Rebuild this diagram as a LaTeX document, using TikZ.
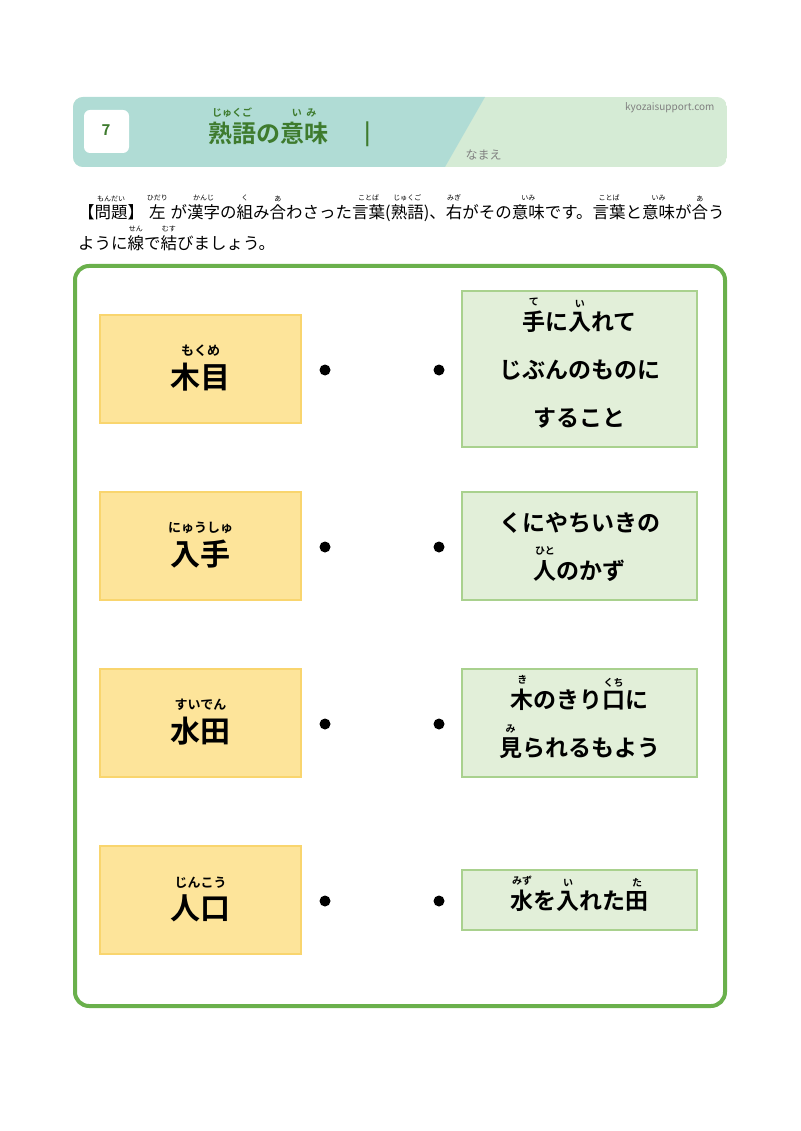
\documentclass[tikz,border=0pt]{standalone}
\usepackage{fontspec}
\setmainfont{Noto Sans CJK JP}
\newfontfamily\jpb{Noto Sans CJK JP Bold}
\newdimen\rbw
\newsavebox\rbbase
\newsavebox\rbruby
\newcommand\rb[3][7pt]{\leavevmode\sbox\rbbase{#2}\sbox\rbruby{\fontsize{#1}{#1}\selectfont #3}%
  \rbw=\wd\rbbase\relax \ifdim\wd\rbruby>\rbw \rbw=\wd\rbruby\relax\fi
  \rlap{\hbox to\rbw{\hss\smash{\raisebox{1.3\ht\rbbase}{\usebox\rbruby}}\hss}}%
  \hbox to\rbw{\hss\usebox\rbbase\hss}}
\definecolor{teal}{HTML}{B0DCD5}
\definecolor{paleg}{HTML}{D5EBD5}
\definecolor{dgreen}{HTML}{3E7B2E}
\definecolor{frameg}{HTML}{6AB04C}
\definecolor{wordfill}{HTML}{FDE49A}
\definecolor{worddraw}{HTML}{F9D56E}
\definecolor{meanfill}{HTML}{E2EFD9}
\definecolor{meandraw}{HTML}{A9D18E}
\tikzset{
  wordbox/.style={draw=worddraw,fill=wordfill,line width=2pt,minimum width=201pt,minimum height=108pt,font=\jpb\fontsize{30}{34}\selectfont,inner sep=0pt,text height=42pt,text depth=3pt},
  meanbox/.style={draw=meandraw,fill=meanfill,line width=2pt,minimum width=235pt,font=\jpb\fontsize{23}{48}\selectfont,align=center,inner sep=0pt,text depth=-10pt},
  dot/.style={circle,fill=black,inner sep=0pt,minimum size=11pt}
}
\begin{document}
\begin{tikzpicture}[x=1pt,y=-1pt]
\useasboundingbox (0,0) rectangle (800,1131);
% header
\begin{scope}
\clip[rounded corners=10pt] (73,97) rectangle (727,167);
\fill[paleg] (73,97) rectangle (727,167);
\fill[teal] (73,97) -- (485,97) -- (445,167) -- (73,167) -- cycle;
\end{scope}
\fill[white,rounded corners=6pt] (84,110) rectangle (129,153);
\node[text=dgreen,font=\jpb\fontsize{15}{15}\selectfont] (num) at (106,130) {7};
\node[text=dgreen,font=\jpb\fontsize{24}{26}\selectfont,anchor=base west,inner sep=0pt] (title) at (208,143)
  {\rb[10pt]{熟語}{じゅくご}の\rb[10pt]{意味}{い\ \ み}};
\node[text=dgreen,font=\jpb\fontsize{22}{22}\selectfont] (bar) at (368,134) {|};
\node[text=gray,font=\fontsize{10}{10}\selectfont,anchor=east] (site) at (718,108) {kyozaisupport.com};
\node[text=gray,font=\fontsize{12}{12}\selectfont,anchor=west] (name) at (462,155) {なまえ};
% question
\node[anchor=base west,font=\fontsize{16.5}{18}\selectfont,inner sep=0pt] (q1) at (78,219)
  {【\rb{問題}{もんだい}】\,\rb{左}{ひだり}\,が\rb{漢字}{かんじ}の\rb{組}{く}み\rb{合}{あ}わさった\rb{言葉}{ことば}(\rb{熟語}{じゅくご})、\rb{右}{みぎ}がその\rb{意味}{いみ}です。\rb{言葉}{ことば}と\rb{意味}{いみ}が\rb{合}{あ}う};
\node[anchor=base west,font=\fontsize{16.5}{18}\selectfont,inner sep=0pt] (q2) at (78,250)
  {ように\rb{線}{せん}で\rb{結}{むす}びましょう。};
% frame
\draw[frameg,line width=4pt,rounded corners=14pt] (75,266) rectangle (725,1006);
% words
\node[wordbox] (w1) at (200.5,369) {\rb[13pt]{木目}{もくめ}};
\node[wordbox] (w2) at (200.5,546) {\rb[13pt]{入手}{にゅうしゅ}};
\node[wordbox] (w3) at (200.5,723) {\rb[13pt]{水田}{すいでん}};
\node[wordbox] (w4) at (200.5,900) {\rb[13pt]{人口}{じんこう}};
% meanings
\node[meanbox,minimum height=156pt] (m1) at (579.5,369)
  {\rb[10pt]{手}{て}に\rb[10pt]{入}{い}れて\\じぶんのものに\\すること};
\node[meanbox,minimum height=108pt] (m2) at (579.5,546)
  {くにやちいきの\\\rb[10pt]{人}{ひと}のかず};
\node[meanbox,minimum height=108pt] (m3) at (579.5,723)
  {\rb[10pt]{木}{き}のきり\rb[10pt]{口}{くち}に\\\rb[10pt]{見}{み}られるもよう};
\node[meanbox,minimum height=60pt] (m4) at (579.5,900)
  {\rb[10pt]{水}{みず}を\rb[10pt]{入}{い}れた\rb[10pt]{田}{た}};
% dots
\foreach \i/\y in {1/370,2/547,3/724,4/901}{
  \node[dot] (l\i) at (325,\y) {};
  \node[dot] (r\i) at (439,\y) {};
}
\end{tikzpicture}
\end{document}
